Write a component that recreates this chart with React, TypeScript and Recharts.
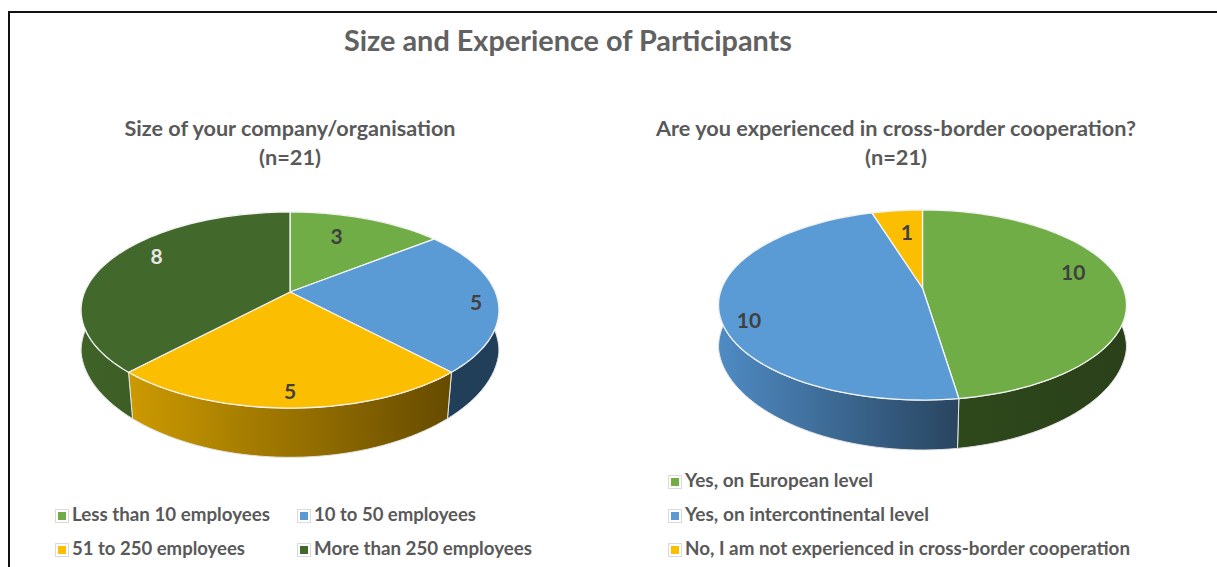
import React from "react";
import { PieChart, Pie, Legend } from "recharts";

const chartTitle = "Size and Experience of Participants";
const sizeTitle = "Size of your company/organisation";
const expTitle = "Are you experienced in cross-border cooperation?";
const sampleNote = "(n=21)";

const sizeCategories = ["Less than 10 employees", "10 to 50 employees", "51 to 250 employees", "More than 250 employees"];
const sizeValues = [3, 5, 5, 8];
const expCategories = ["Yes, on European level", "Yes, on intercontinental level", "No, I am not experienced in cross-border cooperation"];
const expValues = [10, 10, 1];

const GREEN = "#70AD47";
const BLUE = "#5B9BD5";
const GOLD = "#FBBE00";
const DARK = "#43682B";

const sizeColors = [GREEN, BLUE, GOLD, DARK];
const sizeWallFrom = ["#2C4419", "#223F5A", "#CC9A00", "#3F6227"];
const sizeWallTo = ["#2C4419", "#223F5A", "#664B00", "#355322"];
const sizeLabelColors = ["#404040", "#404040", "#404040", "#E7E6E6"];
const sizeLabelTurn = [-5, 2, 0, 9];
const sizeLabelRadius = [0.72, 0.895, 0.87, 0.81];

const expColors = [GREEN, BLUE, GOLD];
const expWallFrom = ["#2F4A1C", "#4F8BC4", "#9C7500"];
const expWallTo = ["#2A4019", "#294560", "#9C7500"];
const expLabelColors = ["#404040", "#404040", "#404040"];
const expLabelTurn = [-9.5, -9, 1.3];
const expLabelRadius = [0.8, 0.877, 0.69];

type Lens = { cx: number; cy: number; a: number; b: number; k: number; taper: number; rimY: number; depth: number };
const sizeLens: Lens = { cx: 290, cy: 292, a: 94.7, b: 205.4, k: 0.184, taper: 0.0004, rimY: 1.08, depth: 40 };
const expLens: Lens = { cx: 922.5, cy: 288, a: 92, b: 200.7, k: 0.179, taper: 0.0004, rimY: 1.08, depth: 41 };

const project = (l: Lens, deg: number, r = 1) => {
  const t = (deg * Math.PI) / 180;
  const u = r * Math.cos(t);
  const v = -r * Math.sin(t);
  const w = 1 - l.k * v;
  return { x: (l.b * u) / w, y: (l.a * v) / w };
};

const arcSamples = (start: number, end: number) => {
  const n = Math.max(2, Math.ceil(Math.abs(end - start) / 2));
  return Array.from({ length: n + 1 }, (_, i) => start + ((end - start) * i) / n);
};

const topShape = (l: Lens) => (p: any) => {
  const pts = arcSamples(p.startAngle, p.endAngle).map((d) => project(l, d));
  const path =
    `M${l.cx},${l.cy} ` + pts.map((q) => `L${(l.cx + q.x).toFixed(2)},${(l.cy + q.y).toFixed(2)}`).join(" ") + " Z";
  return <path d={path} fill={p.fill} stroke="#F4F4F4" strokeWidth={1.3} strokeLinejoin="round" />;
};

const wallShape = (l: Lens) => (p: any) => {
  const pts = arcSamples(p.startAngle, p.endAngle).map((d) => project(l, d));
  const upper = pts.map((q) => [l.cx + q.x, l.cy + q.y]);
  const lower = pts
    .map((q) => [l.cx + q.x * (1 - l.taper * Math.max(0, q.y - 18)), l.cy + q.y * l.rimY + l.depth])
    .reverse();
  const path = "M" + [...upper, ...lower].map((c) => `${c[0].toFixed(2)},${c[1].toFixed(2)}`).join(" L") + " Z";
  const xs = upper.map((c) => c[0]);
  const id = `wall-${Math.round(l.cx)}-${Math.round(Math.abs(p.startAngle))}`;
  return (
    <g>
      <defs>
        <linearGradient id={id} gradientUnits="userSpaceOnUse" x1={Math.min(...xs)} x2={Math.max(...xs)} y1={0} y2={0}>
          <stop offset="0" stopColor={p.payload.wallFrom} />
          <stop offset="1" stopColor={p.payload.wallTo} />
        </linearGradient>
      </defs>
      <path d={path} fill={`url(#${id})`} stroke="#E4E4E4" strokeWidth={1} strokeLinejoin="round" />
    </g>
  );
};

const labelOf =
  (l: Lens, colors: string[], turn: number[], radius: number[]) =>
  (p: any) => {
    const q = project(l, p.midAngle - turn[p.index], radius[p.index]);
    return (
      <text
        x={l.cx + q.x}
        y={l.cy + q.y}
        textAnchor="middle"
        dominantBaseline="central"
        fill={colors[p.index]}
        fontSize={21}
        fontWeight={700}
      >
        {p.value}
      </text>
    );
  };

const rows = (names: string[], values: number[], colors: string[], from: string[], to: string[]) =>
  names.map((name, i) => ({ name, value: values[i], fill: colors[i], wallFrom: from[i], wallTo: to[i] }));

const sizeData = rows(sizeCategories, sizeValues, sizeColors, sizeWallFrom, sizeWallTo);
const expData = rows(expCategories, expValues, expColors, expWallFrom, expWallTo);

const FONT = "Lato, 'Open Sans', sans-serif";

const LegendEntry = ({ left, top, color, text, width }: any) => (
  <div style={{ position: "absolute", left, top: top - 10, height: 20, whiteSpace: "nowrap" }}>
    <span
      style={{
        position: "absolute",
        left: 0,
        top: 4,
        width: 8,
        height: 8,
        padding: 2,
        background: color,
        backgroundClip: "content-box",
        border: "1px solid #DADADA",
      }}
    />
    <svg style={{ position: "absolute", left: 17, top: 0, overflow: "visible" }} width={width} height={20}>
      <text x={0} y={16} fontFamily={FONT} fontWeight={700} fontSize={18.5} fill="#595959" textLength={width} lengthAdjust="spacingAndGlyphs">
        {text}
      </text>
    </svg>
  </div>
);

const legendBlock = () => (
  <div style={{ position: "relative", width: 1217, height: 0 }}>
    <LegendEntry left={55} top={515} color={sizeColors[0]} text={sizeCategories[0]} width={198} />
    <LegendEntry left={297} top={515} color={sizeColors[1]} text={sizeCategories[1]} width={162} />
    <LegendEntry left={55} top={549} color={sizeColors[2]} text={sizeCategories[2]} width={173} />
    <LegendEntry left={297} top={549} color={sizeColors[3]} text={sizeCategories[3]} width={218} />
    <LegendEntry left={668} top={481} color={expColors[0]} text={expCategories[0]} width={188} />
    <LegendEntry left={668} top={515} color={expColors[1]} text={expCategories[1]} width={244} />
    <LegendEntry left={668} top={549} color={expColors[2]} text={expCategories[2]} width={445} />
  </div>
);

const Heading = ({ x, y, size, fill, width, children }: any) => (
  <text x={x} y={y} textAnchor="middle" fontFamily={FONT} fontWeight={700} fontSize={size} fill={fill} textLength={width} lengthAdjust="spacingAndGlyphs">
    {children}
  </text>
);

export default function App() {
  return (
    <div style={{ position: "absolute", left: 0, top: 0, width: 1217, height: 567, overflow: "hidden", background: "#fff", fontFamily: FONT }}>
      <div
        style={{
          position: "absolute",
          left: 8,
          top: 11,
          width: 1300,
          height: 700,
          borderLeft: "2px solid #111",
          borderTop: "2px solid #111",
        }}
      />
      <div style={{ position: "absolute", left: 0, top: 0 }}>
        <PieChart width={1217} height={567} margin={{ top: 0, right: 0, bottom: 0, left: 0 }}>
          <Heading x={568} y={51} size={29} fill="#616161" width={448}>{chartTitle}</Heading>
          <Heading x={290} y={136} size={21.5} fill="#595959" width={331}>{sizeTitle}</Heading>
          <Heading x={290} y={165} size={21.5} fill="#595959" width={62}>{sampleNote}</Heading>
          <Heading x={896} y={136} size={21.5} fill="#595959" width={480}>{expTitle}</Heading>
          <Heading x={896} y={165} size={21.5} fill="#595959" width={62}>{sampleNote}</Heading>
          <Pie
            data={sizeData}
            dataKey="value"
            nameKey="name"
            cx={sizeLens.cx}
            cy={sizeLens.cy}
            outerRadius={100}
            startAngle={90}
            endAngle={-270}
            shape={wallShape(sizeLens)}
            isAnimationActive={false}
            legendType="none"
          />
          <Pie
            data={expData}
            dataKey="value"
            nameKey="name"
            cx={expLens.cx}
            cy={expLens.cy}
            outerRadius={100}
            startAngle={90}
            endAngle={-270}
            shape={wallShape(expLens)}
            isAnimationActive={false}
            legendType="none"
          />
          <Pie
            data={sizeData}
            dataKey="value"
            nameKey="name"
            cx={sizeLens.cx}
            cy={sizeLens.cy}
            outerRadius={100}
            startAngle={90}
            endAngle={-270}
            shape={topShape(sizeLens)}
            label={labelOf(sizeLens, sizeLabelColors, sizeLabelTurn, sizeLabelRadius)}
            labelLine={false}
            isAnimationActive={false}
          />
          <Pie
            data={expData}
            dataKey="value"
            nameKey="name"
            cx={expLens.cx}
            cy={expLens.cy}
            outerRadius={100}
            startAngle={90}
            endAngle={-270}
            shape={topShape(expLens)}
            label={labelOf(expLens, expLabelColors, expLabelTurn, expLabelRadius)}
            labelLine={false}
            isAnimationActive={false}
          />
          <Legend content={legendBlock} wrapperStyle={{ left: 0, top: 0, width: 1217, height: 0 }} />
        </PieChart>
      </div>
    </div>
  );
}
